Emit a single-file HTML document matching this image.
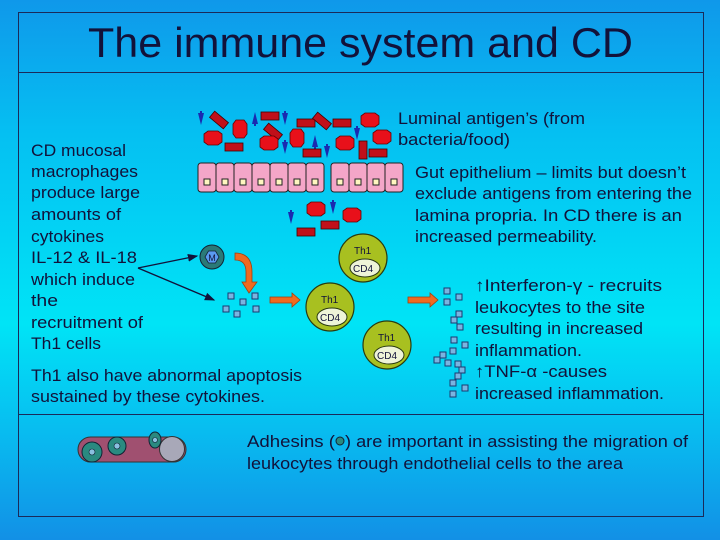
<!DOCTYPE html>
<html><head><meta charset="utf-8"><style>
html,body{margin:0;padding:0}
body{width:720px;height:540px;overflow:hidden}
svg{display:block}
text{font-family:"Liberation Sans","DejaVu Sans",sans-serif;fill:#12123a}
</style></head><body>
<svg width="720" height="540" viewBox="0 0 720 540">
<defs>
<linearGradient id="bg" x1="0" y1="0" x2="0" y2="1">
<stop offset="0" stop-color="#0f98ea"/>
<stop offset="0.25" stop-color="#05c0f2"/>
<stop offset="0.6" stop-color="#00e4f6"/>
<stop offset="0.8" stop-color="#08bcf0"/>
<stop offset="1" stop-color="#1290e6"/>
</linearGradient>
<g id="bact"><path d="M-9,-4 L-5,-7 L5,-7 L9,-4 L9,4 L5,7 L-5,7 L-9,4 Z" fill="#e8101a" stroke="#600" stroke-width="0.8"/></g>
<g id="rod"><rect x="-9" y="-4" width="18" height="8" fill="#c0101a" stroke="#400" stroke-width="0.8"/></g>
<g id="tri"><path d="M-3,-6 L3,-6 L0,6 Z" fill="#1a2ab0"/><rect x="-1" y="-8" width="2" height="3" fill="#1a2ab0"/></g>
<g id="sq"><rect x="-3" y="-3" width="6" height="6" fill="#7ab4e0" stroke="#1a3a70" stroke-width="1"/></g>
<g id="cell"><rect x="0" y="0" width="18" height="29" rx="3" fill="#f4a6c8" stroke="#222" stroke-width="1"/><rect x="6" y="16" width="6" height="6" fill="#fff6c0" stroke="#222" stroke-width="1"/></g>
<g id="th1"><circle r="24" fill="#a8c020" stroke="#2a3a10" stroke-width="1.2"/><text x="-9" y="-4" font-size="10">Th1</text><ellipse cx="2" cy="10" rx="15" ry="9" fill="#eef4d8" stroke="#2a3a10" stroke-width="1"/><text x="-10" y="14" font-size="10">CD4</text></g>
<marker id="ah" markerWidth="8" markerHeight="8" refX="7" refY="4" orient="auto"><path d="M0,1 L8,4 L0,7 Z" fill="#12123a"/></marker>
</defs>
<rect width="720" height="540" fill="url(#bg)"/>
<rect x="18.5" y="12.5" width="685" height="504" fill="none" stroke="#1a2a5a" stroke-width="1"/>
<line x1="18" y1="72.5" x2="703" y2="72.5" stroke="#1a2a5a"/>
<line x1="18" y1="414.5" x2="703" y2="414.5" stroke="#1a2a5a"/>
<text x="88" y="57" font-size="42" textLength="545" lengthAdjust="spacingAndGlyphs">The immune system and CD</text>

<g font-size="17" lengthAdjust="spacingAndGlyphs">
<text x="31" y="156" textLength="95" lengthAdjust="spacingAndGlyphs">CD mucosal</text>
<text x="31" y="177" textLength="107" lengthAdjust="spacingAndGlyphs">macrophages</text>
<text x="31" y="198" textLength="109" lengthAdjust="spacingAndGlyphs">produce large</text>
<text x="31" y="220" textLength="90" lengthAdjust="spacingAndGlyphs">amounts of</text>
<text x="31" y="242" textLength="73" lengthAdjust="spacingAndGlyphs">cytokines</text>
<text x="31" y="263" textLength="106" lengthAdjust="spacingAndGlyphs" font-family="Liberation Serif,serif">IL-12 &amp; IL-18</text>
<text x="31" y="285" textLength="104" lengthAdjust="spacingAndGlyphs">which induce</text>
<text x="31" y="306" textLength="27" lengthAdjust="spacingAndGlyphs">the</text>
<text x="31" y="328" textLength="112" lengthAdjust="spacingAndGlyphs">recruitment of</text>
<text x="31" y="349" textLength="70" lengthAdjust="spacingAndGlyphs">Th1 cells</text>
<text x="31" y="381" textLength="271" lengthAdjust="spacingAndGlyphs">Th1 also have abnormal apoptosis</text>
<text x="31" y="402" textLength="234" lengthAdjust="spacingAndGlyphs">sustained by these cytokines.</text>
<text x="398" y="124" textLength="187" lengthAdjust="spacingAndGlyphs">Luminal antigen’s (from</text>
<text x="398" y="145" textLength="112" lengthAdjust="spacingAndGlyphs">bacteria/food)</text>
<text x="415" y="178" textLength="271" lengthAdjust="spacingAndGlyphs">Gut epithelium – limits but doesn’t</text>
<text x="415" y="199" textLength="277" lengthAdjust="spacingAndGlyphs">exclude antigens from entering the</text>
<text x="415" y="221" textLength="267" lengthAdjust="spacingAndGlyphs">lamina propria.  In CD there is an</text>
<text x="415" y="242" textLength="182" lengthAdjust="spacingAndGlyphs">increased permeability.</text>
<text x="475" y="291" textLength="187" lengthAdjust="spacingAndGlyphs">&#x2191;Interferon-γ - recruits</text>
<text x="475" y="313" textLength="170" lengthAdjust="spacingAndGlyphs">leukocytes to the site</text>
<text x="475" y="334" textLength="168" lengthAdjust="spacingAndGlyphs">resulting in increased</text>
<text x="475" y="356" textLength="107" lengthAdjust="spacingAndGlyphs">inflammation.</text>
<text x="475" y="377" textLength="132" lengthAdjust="spacingAndGlyphs">&#x2191;TNF-α -causes</text>
<text x="475" y="399" textLength="189" lengthAdjust="spacingAndGlyphs">increased inflammation.</text>
<text x="247" y="447" textLength="88" lengthAdjust="spacingAndGlyphs">Adhesins (</text>
<text x="345" y="447" textLength="343" lengthAdjust="spacingAndGlyphs">) are important in assisting the migration of</text>
<text x="247" y="469" textLength="376" lengthAdjust="spacingAndGlyphs">leukocytes through endothelial cells to the area</text>
</g>
<circle cx="340" cy="441" r="4" fill="#2a8a80" stroke="#123" stroke-width="1"/>

<g>
<use href="#cell" x="198" y="163"/><use href="#cell" x="216" y="163"/><use href="#cell" x="234" y="163"/><use href="#cell" x="252" y="163"/><use href="#cell" x="270" y="163"/><use href="#cell" x="288" y="163"/><use href="#cell" x="306" y="163"/>
<use href="#cell" x="331" y="163"/><use href="#cell" x="349" y="163"/><use href="#cell" x="367" y="163"/><use href="#cell" x="385" y="163"/>
</g>
<use href="#tri" x="201" y="119"/>
<use href="#rod" transform="translate(219,120) rotate(40)"/>
<use href="#bact" transform="translate(240,129) rotate(90)"/>
<use href="#tri" transform="translate(255,118) rotate(180)"/>
<use href="#rod" x="270" y="116"/>
<use href="#tri" x="285" y="119"/>
<use href="#rod" transform="translate(273,132) rotate(40)"/>
<use href="#bact" x="213" y="138"/>
<use href="#rod" x="234" y="147"/>
<use href="#bact" x="269" y="143"/>
<use href="#tri" x="285" y="148"/>
<use href="#bact" transform="translate(297,138) rotate(90)"/>
<use href="#rod" x="306" y="123"/>
<use href="#tri" transform="translate(315,141) rotate(180)"/>
<use href="#rod" transform="translate(322,121) rotate(40)"/>
<use href="#rod" x="342" y="123"/>
<use href="#bact" x="370" y="120"/>
<use href="#tri" x="357" y="134"/>
<use href="#bact" x="345" y="143"/>
<use href="#bact" x="382" y="137"/>
<use href="#rod" x="312" y="153"/>
<use href="#tri" x="327" y="152"/>
<use href="#rod" transform="translate(363,150) rotate(90)"/>
<use href="#rod" x="378" y="153"/>
<use href="#bact" x="316" y="209"/>
<use href="#tri" x="333" y="208"/>
<use href="#bact" x="352" y="215"/>
<use href="#tri" x="291" y="218"/>
<use href="#rod" x="330" y="225"/>
<use href="#rod" x="306" y="232"/>

<circle cx="212" cy="257" r="12" fill="#2a7a78" stroke="#123" stroke-width="1"/>
<path d="M205,257 L208.5,251 L215.5,251 L219,257 L215.5,263 L208.5,263 Z" fill="#5a9af0" stroke="#123" stroke-width="0.8"/>
<text x="212" y="261" font-size="9" text-anchor="middle">M</text>
<line x1="138" y1="268" x2="197" y2="256" stroke="#12123a" stroke-width="1.3" marker-end="url(#ah)"/>
<line x1="138" y1="268" x2="214" y2="300" stroke="#12123a" stroke-width="1.3" marker-end="url(#ah)"/>
<path d="M235,253 Q252,253 252,272 L252,282 L257,282 L249,293 L242,282 L246,282 L246,272 Q246,260 235,260 Z" fill="#f06a20" stroke="#a04010" stroke-width="0.8"/>
<use href="#sq" x="231" y="296"/><use href="#sq" x="243" y="302"/><use href="#sq" x="255" y="296"/><use href="#sq" x="226" y="309"/><use href="#sq" x="237" y="314"/><use href="#sq" x="256" y="309"/>
<path d="M270,297 L292,297 L292,293 L300,300 L292,307 L292,303 L270,303 Z" fill="#f06a20" stroke="#a04010" stroke-width="0.8"/>
<path d="M408,297 L430,297 L430,293 L438,300 L430,307 L430,303 L408,303 Z" fill="#f06a20" stroke="#a04010" stroke-width="0.8"/>
<use href="#th1" x="363" y="258"/>
<use href="#th1" x="330" y="307"/>
<use href="#th1" x="387" y="345"/>
<use href="#sq" x="447" y="291"/><use href="#sq" x="459" y="297"/><use href="#sq" x="447" y="302"/>
<use href="#sq" x="459" y="314"/><use href="#sq" x="454" y="320"/><use href="#sq" x="460" y="327"/>
<use href="#sq" x="454" y="340"/><use href="#sq" x="465" y="345"/><use href="#sq" x="453" y="351"/>
<use href="#sq" x="437" y="360"/><use href="#sq" x="443" y="355"/><use href="#sq" x="448" y="363"/>
<use href="#sq" x="458" y="364"/><use href="#sq" x="462" y="370"/><use href="#sq" x="458" y="376"/>
<use href="#sq" x="453" y="383"/><use href="#sq" x="465" y="388"/><use href="#sq" x="453" y="394"/>

<rect x="78" y="437" width="108" height="25" rx="12.5" fill="#a05070" stroke="#333" stroke-width="1"/>
<circle cx="172" cy="449" r="12.5" fill="#a8a8b8" stroke="#333" stroke-width="1"/>
<circle cx="92" cy="452" r="10" fill="#2a8a80" stroke="#123"/><circle cx="92" cy="452" r="3" fill="#8ac0e0" stroke="#123" stroke-width="0.6"/>
<circle cx="117" cy="446" r="9" fill="#2a8a80" stroke="#123"/><circle cx="117" cy="446" r="3" fill="#8ac0e0" stroke="#123" stroke-width="0.6"/>
<ellipse cx="155" cy="440" rx="6" ry="8" fill="#2a8a80" stroke="#123"/><circle cx="155" cy="440" r="2.5" fill="#8ac0e0" stroke="#123" stroke-width="0.6"/>
</svg>
</body></html>
